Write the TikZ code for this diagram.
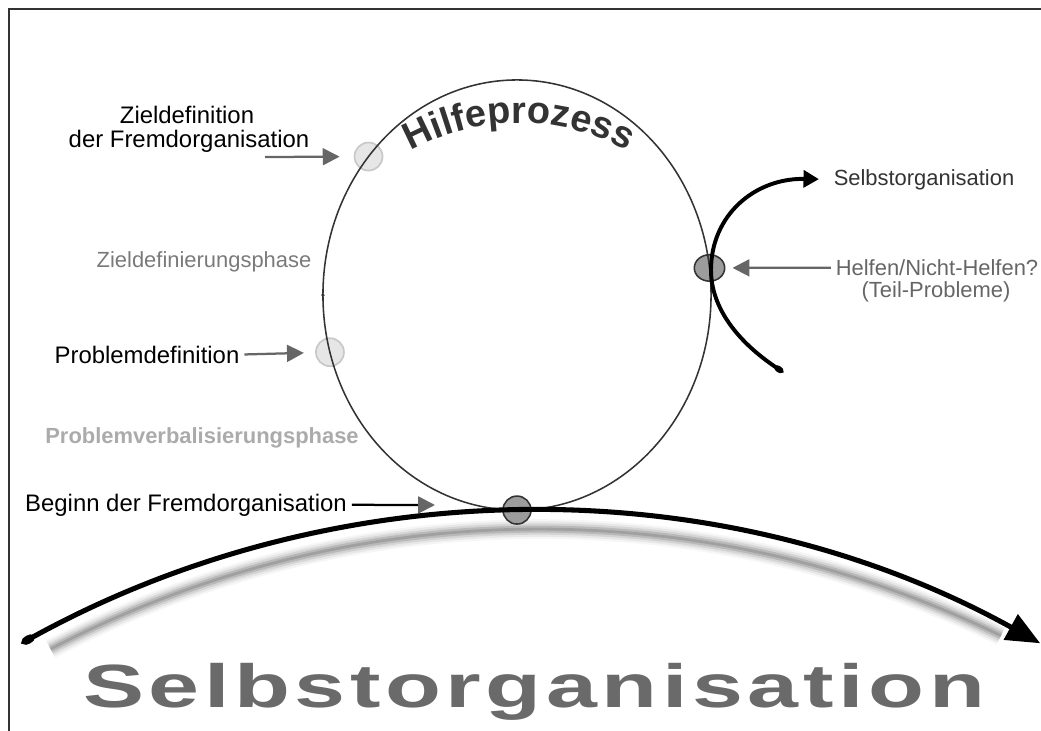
\documentclass[tikz,border=0pt]{standalone}
\usepackage{fontspec}
\setmainfont{Liberation Sans}
\setsansfont{Liberation Sans}
\usepackage{xcolor}
\usepackage{tikz}
\usetikzlibrary{
    positioning,
    arrows.meta,
    shapes.geometric,
    decorations.text,
    backgrounds,
}
\definecolor{ink}{HTML}{333333}
\definecolor{pointergray}{HTML}{666666}
\definecolor{phasegray}{HTML}{7A7A7A}
\definecolor{verbalgray}{HTML}{ABABAB}
\definecolor{titlegray}{HTML}{6A6A6A}
\definecolor{dotlight}{HTML}{E6E6E6}
\definecolor{dotlightline}{HTML}{C8C8C8}
\definecolor{dotdark}{HTML}{9C9C9C}
\tikzset{
    % Text styles
    label text/.style={font=\fontsize{17}{17}\selectfont, text=black, anchor=base},
    side text/.style={font=\fontsize{15.6}{16}\selectfont, text=pointergray, anchor=base},
    phase text/.style={font=\fontsize{15.6}{16}\selectfont, text=phasegray, anchor=base},
    big title/.style={font=\fontsize{43.4}{44}\selectfont\bfseries\addfontfeature{LetterSpace=5},
                      text=titlegray, anchor=base, xscale=1.5},
    % Point styles
    light dot/.style={circle, draw=dotlightline, fill=dotlight, line width=1.2pt, minimum size=0.7cm, inner sep=0pt},
    dark dot/.style={circle, draw=ink, fill=dotdark, line width=1.1pt, minimum size=0.7cm, inner sep=0pt},
    % Arrow styles
    pointer/.style={line width=1.6pt, draw=pointergray, -{Triangle[length=12pt, width=12pt, color=pointergray]}},
    branch flow/.style={line width=2.8pt, {Ellipse[length=7pt, width=4.5pt]}-{Triangle[length=11pt, width=12pt]}},
    main flow/.style={line width=3.6pt, {Ellipse[length=10pt, width=6pt]}-{Triangle[length=24pt, width=20pt]}},
}

\begin{document}
\begin{tikzpicture}[
    x=0.025cm, y=0.025cm,
    frame line/.style={draw=ink, line width=2pt},
    ring/.style={ellipse, draw=ink, line width=1.1pt, minimum width=9.7cm, minimum height=10.75cm,
                 inner sep=0pt, outer sep=0pt},
]
    \useasboundingbox (0,0) rectangle (1041,-731);

    % Frame
    \draw[frame line] (9,-731) -- (9,-9) -- (1041,-9);

    % Help process ring
    \node[ring] (hilfe) at (517,-295) {};
    \fill[ink] (hilfe.west) circle[radius=1.8];
    \path[decorate, decoration={text along path, text align=center, text color=ink,
          text={|\fontsize{27}{27}\selectfont\bfseries|Hilfeprozess}}]
        ([shift={(125:222)}]519,-345) arc[start angle=125, end angle=55, radius=222];

    % Phase points and shadow
    \begin{scope}[on background layer]
        \foreach \w/\o in {14/0.06, 11/0.1, 8/0.15, 5/0.25, 2/0.3} {
            \draw[line width=\w pt, black!60, opacity=\o]
                (50.6,-649) arc[start angle=117.6, end angle=64, radius=1054];
        }
        \node[light dot] (zielpunkt) at (hilfe.137.8) {};
        \node[light dot] (problempunkt) at (hilfe.197.6) {};
        \node[dark dot, minimum width=0.76cm, minimum height=0.66cm, ellipse] (helfpunkt) at (hilfe.8.9) {};
        \node[dark dot] (beginnpunkt) at (hilfe.south) {};
    \end{scope}

    % Labels
    \node[label text] (ziel oben) at (187,-123) {Zieldefinition};
    \node[label text] (ziel unten) at (189,-147) {der Fremdorganisation};
    \node[phase text] (ziel phase) at (204,-267) {Zieldefinierungsphase};
    \node[label text] (problem text) at (147,-363) {Problemdefinition};
    \node[phase text, font=\fontsize{15.6}{16}\selectfont\bfseries, text=verbalgray] (verbal phase) at (202,-443) {Problemverbalisierungsphase};
    \node[label text] (beginn text) at (186,-511) {Beginn der Fremdorganisation};
    \node[side text, text=ink] (selbst klein) at (924,-185) {Selbstorganisation};
    \node[side text] (helfen text) at (937,-275.5) {Helfen/Nicht-Helfen?};
    \node[side text] (teil text) at (936,-297.5) {(Teil-Probleme)};
    \node[big title] (selbst gross) at (534,-707) {Selbstorganisation};

    % Pointers
    \coordinate (ziel tail) at (265,-157);
    \coordinate (beginn tip) at (435,-505);
    \draw[pointer, shorten >=10pt] (ziel tail) -- (zielpunkt);
    \draw[pointer, shorten >=8pt] (problem text.east) -- (problempunkt);
    \draw[pointer, draw=black] (beginn text.east) -- (beginn tip);
    \draw[pointer, shorten >=5pt] (helfen text.west) -- (helfpunkt);

    % Branch to self-organisation
    \coordinate (abzweig) at (783,-372);
    \draw[branch flow, shorten >=7pt] (abzweig) .. controls (738,-342) and (711,-308) .. (711,-270)
        .. controls (711,-215) and (755,-178) .. (selbst klein.west);

    % Main flow
    \coordinate (fluss start) at (22,-643);
    \draw[main flow] (fluss start) arc[start angle=118.87, end angle=61.1, radius=1054];
\end{tikzpicture}
\end{document}
